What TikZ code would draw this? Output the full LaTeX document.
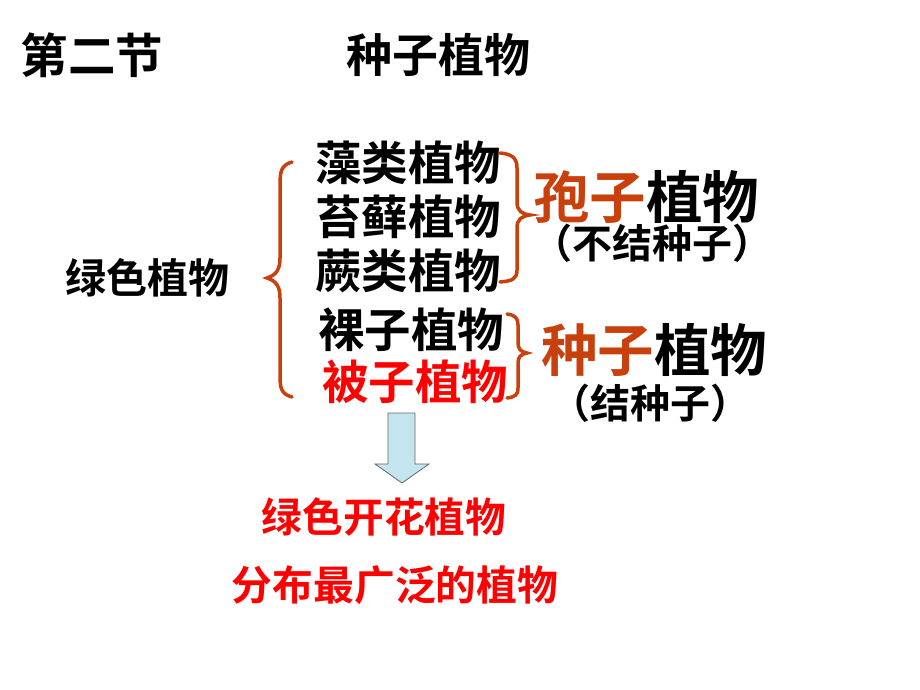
\documentclass[tikz,border=0pt]{standalone}
\usepackage{fontspec}
\newfontfamily\cjk{Noto Sans CJK SC}[BoldFont={Noto Sans CJK SC Bold}]
\definecolor{braceor}{HTML}{C8400C}
\definecolor{redtxt}{HTML}{FF0000}
\definecolor{arrowfill}{HTML}{C4E4EE}
\begin{document}
\begin{tikzpicture}[x=1pt,y=-1pt,
  txt/.style={inner sep=0pt,text height={0.88*#1 pt},text depth={0.12*#1 pt},
    font=\cjk\bfseries\fontsize{#1}{#1}\selectfont},
  txt/.default=44,
  bracestyle/.style={draw=braceor,line width=3.5pt,line cap=round}]
\useasboundingbox[fill=white] (0,0) rectangle (920,690);
% titles
\node[txt=47.5] (t1) at (92,55) {第二节};
\node[txt=46] (t2) at (438,55) {种子植物};
% left
\node[txt=41] (green) at (147,278) {绿色植物};
% groups
\node[txt=46.5] (a1) at (408,163) {藻类植物};
\node[txt=46.5] (a2) at (408,217) {苔藓植物};
\node[txt=46.5] (a3) at (408,271) {蕨类植物};
\node[txt=46.5] (b1) at (411,330) {裸子植物};
\node[txt=46.5,text=redtxt] (b2) at (415,382) {被子植物};
% right labels
\node[txt=56.5] (s1) at (646,197) {\textcolor{braceor}{孢子}植物};
\node[txt=40] (s1b) at (652,243) {（不结种子）};
\node[txt=56.5] (s2) at (654,350) {\textcolor{braceor}{种子}植物};
\node[txt=40] (s2b) at (650,403) {（结种子）};
% bottom
\node[txt=40.7,text=redtxt] (c1) at (384,517) {绿色开花植物};
\node[txt=40.8,text=redtxt] (c2) at (395,585) {分布最广泛的植物};
% braces
\draw[bracestyle] (292,162) .. controls (281,165) and (280,172) .. (280,185)
  -- (280,258) .. controls (280,270) and (276,275) .. (267,278)
  .. controls (276,281) and (280,286) .. (280,298)
  -- (280,375) .. controls (280,388) and (281,394) .. (292,397);
\draw[bracestyle] (500,153) .. controls (512,154) and (517,158) .. (517,168)
  -- (517,202) .. controls (517,211) and (522,214) .. (530,215)
  .. controls (522,216) and (517,219) .. (517,228)
  -- (517,270) .. controls (517,279) and (512,281) .. (500,282);
\draw[bracestyle] (507,314) .. controls (515,315) and (518,318) .. (518,325)
  -- (518,343) .. controls (518,349) and (521,352) .. (527,353)
  .. controls (521,354) and (518,357) .. (518,363)
  -- (518,388) .. controls (518,395) and (515,397) .. (507,398);
% arrow
\coordinate (ar) at (402,413);
\draw[draw=gray!80!black,line width=0.8pt,fill=arrowfill]
  (388,413) -- (415,413) -- (415,464) -- (429,464) -- (402,483)
  -- (375,464) -- (388,464) -- cycle;
\end{tikzpicture}
\end{document}
